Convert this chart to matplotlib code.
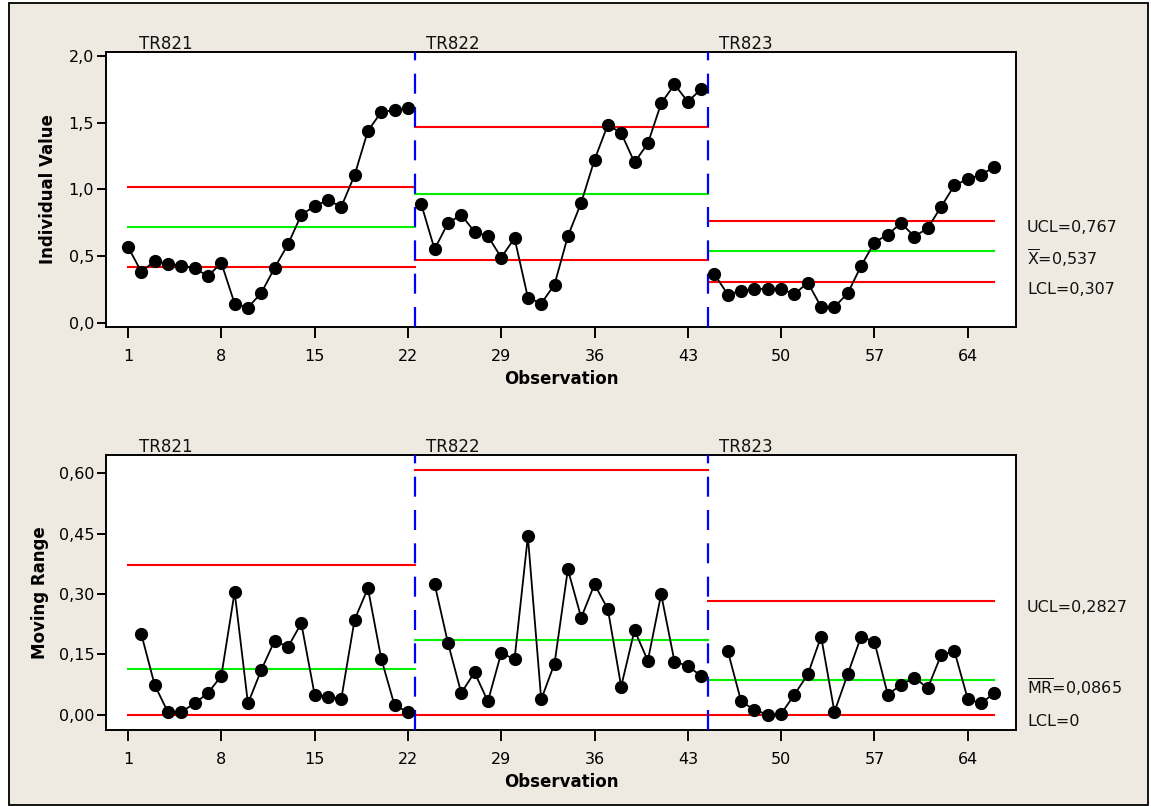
import matplotlib
matplotlib.use("Agg")
import matplotlib.pyplot as plt
import numpy as np
from matplotlib.patches import Rectangle
from matplotlib.ticker import FuncFormatter

# stages and their observations
stages = ["TR821", "TR822", "TR823"]
stage_first_obs = [1, 23, 45]
stage_last_obs = [22, 44, 66]

# individual values per stage
ind_tr821 = [0.571, 0.384, 0.464, 0.446, 0.429, 0.411, 0.352, 0.451, 0.147, 0.117, 0.227,
             0.414, 0.589, 0.810, 0.875, 0.920, 0.870, 1.107, 1.438, 1.578, 1.593, 1.606]
ind_tr822 = [0.890, 0.553, 0.748, 0.810, 0.683, 0.651, 0.491, 0.636, 0.192, 0.147, 0.289,
             0.651, 0.900, 1.222, 1.483, 1.421, 1.202, 1.344, 1.643, 1.785, 1.655, 1.750]
ind_tr823 = [0.366, 0.214, 0.242, 0.257, 0.257, 0.257, 0.217, 0.304, 0.122, 0.122, 0.224,
             0.429, 0.603, 0.663, 0.748, 0.648, 0.711, 0.870, 1.030, 1.077, 1.109, 1.169]

# moving ranges per stage (start at 2nd obs of each stage)
mr_tr821 = [0.200, 0.074, 0.006, 0.007, 0.028, 0.054, 0.096, 0.305, 0.028, 0.111, 0.184,
            0.168, 0.227, 0.050, 0.045, 0.039, 0.236, 0.314, 0.139, 0.023, 0.007]
mr_tr822 = [0.325, 0.179, 0.054, 0.105, 0.033, 0.153, 0.138, 0.443, 0.038, 0.127, 0.361,
            0.241, 0.324, 0.262, 0.070, 0.210, 0.134, 0.299, 0.132, 0.121, 0.096]
mr_tr823 = [0.158, 0.033, 0.012, 0.000, 0.002, 0.050, 0.100, 0.194, 0.007, 0.101, 0.194,
            0.181, 0.050, 0.074, 0.092, 0.066, 0.148, 0.158, 0.039, 0.028, 0.054]

# control limits per stage
ind_ucl = [1.020, 1.463, 0.767]
ind_cl = [0.720, 0.968, 0.537]
ind_lcl = [0.420, 0.473, 0.307]
mr_ucl = [0.373, 0.608, 0.2827]
mr_cl = [0.114, 0.186, 0.0865]
mr_lcl = [0.0, 0.0, 0.0]

ind_labels = ["UCL=0,767", r"$\overline{\mathrm{X}}$=0,537", "LCL=0,307"]
mr_labels = ["UCL=0,2827", r"$\overline{\mathrm{MR}}$=0,0865", "LCL=0"]

ind_values = [ind_tr821, ind_tr822, ind_tr823]
mr_values = [mr_tr821, mr_tr822, mr_tr823]

x_ticks = [1, 8, 15, 22, 29, 36, 43, 50, 57, 64]

plt.rcParams['font.family'] = ['DejaVu Sans']
plt.rcParams['mathtext.fontset'] = 'dejavusans'

fig = plt.figure(figsize=(11.51, 8.06), dpi=100, facecolor='white')
fig.add_artist(Rectangle((9 / 1151, 1 - 805 / 806), 1139 / 1151, 802 / 806,
                         transform=fig.transFigure, facecolor='#EEEAE1',
                         edgecolor='black', linewidth=1.3, zorder=-10))

ax_top = fig.add_axes([0.0921, 0.5943, 0.7906, 0.3412])
ax_bot = fig.add_axes([0.0921, 0.0943, 0.7906, 0.3412])

boundaries = [0.5, 22.5, 44.5, 66.0]
label_x = [1.83, 23.36, 45.36]


def comma_fmt(decimals):
    return FuncFormatter(lambda v, p: f"{v:.{decimals}f}".replace('.', ','))


def draw_panel(ax, values, first_offset, ucl, cl, lcl, right_labels, ylim, yticks, decimals,
               ylabel, ylabel_x):
    ax.set_facecolor('white')
    for i in range(3):
        start = stage_first_obs[i] + first_offset
        obs = np.arange(start, start + len(values[i]))
        ax.plot(obs, values[i], color='black', lw=1.3, marker='o', markersize=8.5, zorder=5)
        x0 = 1 if i == 0 else boundaries[i]
        x1 = boundaries[i + 1]
        ax.plot([x0, x1], [ucl[i], ucl[i]], color='#FF0000', lw=1.5, zorder=2)
        ax.plot([x0, x1], [cl[i], cl[i]], color='#00F000', lw=1.5, zorder=2)
        ax.plot([x0, x1], [lcl[i], lcl[i]], color='#FF0000', lw=1.5, zorder=2)
        ax.annotate(stages[i], xy=(label_x[i], 1.0), xycoords=('data', 'axes fraction'),
                    xytext=(0, 2), textcoords='offset points', ha='left', va='baseline',
                    fontsize=12, color='#111111', annotation_clip=False)
    for b in boundaries[1:3]:
        ax.axvline(b, color='#0000FF', lw=1.6, dashes=(9, 6), zorder=3)

    # limits of the last stage on the right
    for val, txt in zip([ucl[2], cl[2], lcl[2]], right_labels):
        ax.annotate(txt, xy=(1.0, val), xycoords=('axes fraction', 'data'),
                    xytext=(8, -5), textcoords='offset points', ha='left', va='center',
                    fontsize=11.5, color='#111111', annotation_clip=False)

    ax.set_xlim(-0.65, 67.62)
    ax.set_ylim(ylim)
    ax.set_xticks(x_ticks)
    ax.set_yticks(yticks)
    ax.yaxis.set_major_formatter(comma_fmt(decimals))
    ax.tick_params(axis='x', direction='out', length=8, width=1.4, pad=8, labelsize=11.5)
    ax.tick_params(axis='y', direction='out', length=6.5, width=1.4, pad=2, labelsize=11.5)
    for s in ax.spines.values():
        s.set_linewidth(1.4)
    ax.set_xlabel('Observation', fontsize=12, fontweight='bold', labelpad=4)
    ax.set_ylabel(ylabel, fontsize=12, fontweight='bold')
    ax.yaxis.set_label_coords(ylabel_x, 0.5)


draw_panel(ax_top, ind_values, 0, ind_ucl, ind_cl, ind_lcl, ind_labels,
           (-0.028, 2.027), [0.0, 0.5, 1.0, 1.5, 2.0], 1, 'Individual Value', -0.054)
draw_panel(ax_bot, mr_values, 1, mr_ucl, mr_cl, mr_lcl, mr_labels,
           (-0.038, 0.645), [0.0, 0.15, 0.30, 0.45, 0.60], 2, 'Moving Range', -0.0626)

fig.savefig('out.png', dpi=100, facecolor=fig.get_facecolor())
